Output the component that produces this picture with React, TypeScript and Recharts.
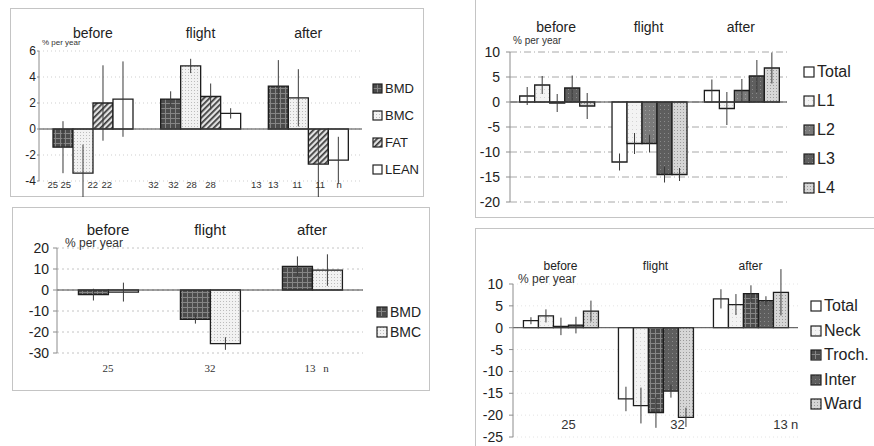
import React from "react"
import { BarChart, Bar, XAxis, YAxis, CartesianGrid, ReferenceLine, ErrorBar } from "recharts"

const groups = ["before", "flight", "after"]

// top left: whole body
const wbBmd = [-1.4, 2.3, 3.3]
const wbBmdErr = [2.0, 0.6, 2.0]
const wbBmc = [-3.4, 4.85, 2.4]
const wbBmcErr = [2.2, 0.55, 2.2]
const wbFat = [2.0, 2.5, -2.7]
const wbFatErr = [2.9, 1.0, 2.6]
const wbLean = [2.3, 1.2, -2.4]
const wbLeanErr = [2.9, 0.4, 1.8]
const wbN = [["25", "25", "22", "22"], ["32", "32", "28", "28"], ["13", "13", "11", "11", "n"]]
const wbTicks = [-4, -2, 0, 2, 4, 6]

// bottom left
const lgBmd = [-2.2, -14, 11.2]
const lgBmdErr = [2.8, 2.0, 4.8]
const lgBmc = [-1.0, -25.5, 9.5]
const lgBmcErr = [4.5, 3.0, 7.5]
const lgN = [["25"], ["32"], ["13", "n"]]
const lgTicks = [-30, -20, -10, 0, 10, 20]

// top right: spine
const spTotal = [1.2, -12, 2.3]
const spTotalErr = [1.8, 1.7, 2.2]
const spL1 = [3.4, -8.3, -1.3]
const spL1Err = [1.8, 2.1, 3.3]
const spL2 = [-0.2, -8.3, 2.3]
const spL2Err = [1.8, 1.8, 2.3]
const spL3 = [2.8, -14.5, 5.2]
const spL3Err = [2.5, 1.6, 3.2]
const spL4 = [-0.8, -14.5, 6.8]
const spL4Err = [2.6, 1.3, 3.1]
const spTicks = [-20, -15, -10, -5, 0, 5, 10]

// bottom right: hip
const hpTotal = [1.6, -16.3, 6.6]
const hpTotalErr = [0.8, 2.8, 2.2]
const hpNeck = [2.7, -17.8, 5.3]
const hpNeckErr = [1.5, 4.1, 2.4]
const hpTroch = [0.3, -19.4, 7.8]
const hpTrochErr = [2.0, 3.5, 1.9]
const hpInter = [0.6, -14.5, 6.2]
const hpInterErr = [1.9, 1.5, 1.0]
const hpWard = [3.8, -20.5, 8.1]
const hpWardErr = [2.4, 2.2, 5.3]
const hpN = [["25"], ["32"], ["13", "n"]]
const hpTicks = [-25, -20, -15, -10, -5, 0, 5, 10]

type Series = { name: string; values: number[]; errors: number[]; fill: string }

type PanelCfg = {
  left: number
  top: number
  width: number
  height: number
  border: { left: number; top: number; width: number; height: number }
  series: Series[]
  domain: [number, number]
  ticks: number[]
  yWidth: number
  yFont: number
  tickSize: number
  tickMargin: number
  topH: number
  bottomH: number
  marginRight: number
  gap: string
  titleY: number
  titleFont: number
  nLabels?: string[][]
  nDx?: number[][]
  nY?: number
  nFont?: number
  nFamily?: string
  grid: { stroke: string; dash: string }
  unit: { left: number; y: number; font: number }
  legend: { left: number; top: number; step: number; font: number; swatch: number }
}

const panels: PanelCfg[] = [
  {
    left: 10, top: 8, width: 414, height: 189,
    border: { left: 10, top: 8, width: 414, height: 189 },
    series: [
      { name: "BMD", values: wbBmd, errors: wbBmdErr, fill: "pDark" },
      { name: "BMC", values: wbBmc, errors: wbBmcErr, fill: "pDots" },
      { name: "FAT", values: wbFat, errors: wbFatErr, fill: "pHatch" },
      { name: "LEAN", values: wbLean, errors: wbLeanErr, fill: "pWhite" },
    ],
    domain: [-4, 6], ticks: wbTicks, yWidth: 29, yFont: 12, tickSize: 2, tickMargin: 1,
    topH: 43, bottomH: 16, marginRight: 62, gap: "13%",
    titleY: 25, titleFont: 14,
    nLabels: wbN,
    nDx: [[-40, -27, 0, 14], [-47, -27, -9, 10], [-52, -35, -11, 12, 31]],
    nY: 176, nFont: 9.5, nFamily: "Liberation Sans, Arial, sans-serif",
    grid: { stroke: "#cfcfcf", dash: "1 3" },
    unit: { left: 42, y: 43, font: 8 },
    legend: { left: 372, top: 74.5, step: 27, font: 13, swatch: 9 },
  },
  {
    left: 12, top: 207, width: 418, height: 184,
    border: { left: 12, top: 207, width: 418, height: 184 },
    series: [
      { name: "BMD", values: lgBmd, errors: lgBmdErr, fill: "pDark" },
      { name: "BMC", values: lgBmc, errors: lgBmcErr, fill: "pDots" },
    ],
    domain: [-30, 20], ticks: lgTicks, yWidth: 45, yFont: 14, tickSize: 4, tickMargin: 4,
    topH: 41, bottomH: 38, marginRight: 67, gap: "21%",
    titleY: 22, titleFont: 15,
    nLabels: lgN,
    nDx: [[0], [0], [-2, 14]],
    nY: 161, nFont: 11, nFamily: "Liberation Serif, Times New Roman, serif",
    grid: { stroke: "#c4c4c4", dash: "2 3" },
    unit: { left: 65, y: 243, font: 12 },
    legend: { left: 376, top: 302, step: 20, font: 14, swatch: 10 },
  },
  {
    left: 475, top: 0, width: 399, height: 218,
    border: { left: 475, top: -2, width: 410, height: 220 },
    series: [
      { name: "Total", values: spTotal, errors: spTotalErr, fill: "pWhite" },
      { name: "L1", values: spL1, errors: spL1Err, fill: "pLight" },
      { name: "L2", values: spL2, errors: spL2Err, fill: "pMid" },
      { name: "L3", values: spL3, errors: spL3Err, fill: "pDark2" },
      { name: "L4", values: spL4, errors: spL4Err, fill: "pSpeck" },
    ],
    domain: [-20, 10], ticks: spTicks, yWidth: 35, yFont: 14, tickSize: 4, tickMargin: 6,
    topH: 52, bottomH: 16, marginRight: 87, gap: "10.5%",
    titleY: 27, titleFont: 14,
    grid: { stroke: "#a8a8a8", dash: "7 3 1 3" },
    unit: { left: 513, y: 41, font: 10 },
    legend: { left: 803, top: 57.5, step: 29, font: 16, swatch: 10 },
  },
  {
    left: 475, top: 228, width: 399, height: 218,
    border: { left: 475, top: 228, width: 410, height: 230 },
    series: [
      { name: "Total", values: hpTotal, errors: hpTotalErr, fill: "pWhite" },
      { name: "Neck", values: hpNeck, errors: hpNeckErr, fill: "pLight" },
      { name: "Troch.", values: hpTroch, errors: hpTrochErr, fill: "pDark" },
      { name: "Inter", values: hpInter, errors: hpInterErr, fill: "pDark2" },
      { name: "Ward", values: hpWard, errors: hpWardErr, fill: "pSpeck" },
    ],
    domain: [-25, 10], ticks: hpTicks, yWidth: 38, yFont: 14, tickSize: 4, tickMargin: 6,
    topH: 56, bottomH: 9, marginRight: 76, gap: "11%",
    titleY: 37.5, titleFont: 12,
    nLabels: hpN,
    nDx: [[8], [22], [30, 44]],
    nY: 196, nFont: 13, nFamily: "Liberation Sans, Arial, sans-serif",
    grid: { stroke: "#e4e4e4", dash: "1 3" },
    unit: { left: 518, y: 279.5, font: 12 },
    legend: { left: 810, top: 293.75, step: 24.5, font: 16, swatch: 10 },
  },
]

function Patterns() {
  return (
    <svg width={0} height={0} style={{ position: "absolute", left: 0, top: 0 }}>
      <defs>
        <pattern id="pWhite" width={4} height={4} patternUnits="userSpaceOnUse">
          <rect width={4} height={4} fill="#ffffff" />
        </pattern>
        <pattern id="pDark" width={5} height={5} patternUnits="userSpaceOnUse">
          <rect width={5} height={5} fill="#4c4c4c" />
          <path d="M0 0.5H5M0.5 0V5" stroke="#858585" strokeWidth={1} />
        </pattern>
        <pattern id="pDark2" width={4} height={4} patternUnits="userSpaceOnUse">
          <rect width={4} height={4} fill="#5e5e5e" />
          <rect x={1} y={1} width={1} height={1} fill="#8a8a8a" />
        </pattern>
        <pattern id="pMid" width={4} height={4} patternUnits="userSpaceOnUse">
          <rect width={4} height={4} fill="#7a7a7a" />
          <rect x={2} y={2} width={1} height={1} fill="#a0a0a0" />
        </pattern>
        <pattern id="pDots" width={3} height={3} patternUnits="userSpaceOnUse">
          <rect width={3} height={3} fill="#f2f2f2" />
          <rect x={1} y={1} width={1} height={1} fill="#bcbcbc" />
        </pattern>
        <pattern id="pLight" width={4} height={4} patternUnits="userSpaceOnUse">
          <rect width={4} height={4} fill="#f3f3f3" />
          <rect x={1} y={1} width={1} height={1} fill="#d4d4d4" />
        </pattern>
        <pattern id="pSpeck" width={3} height={3} patternUnits="userSpaceOnUse">
          <rect width={3} height={3} fill="#d6d6d6" />
          <rect x={1} y={1} width={1} height={1} fill="#9a9a9a" />
        </pattern>
        <pattern id="pHatch" width={4} height={4} patternUnits="userSpaceOnUse" patternTransform="rotate(45)">
          <rect width={4} height={4} fill="#e2e2e2" />
          <rect width={1.7} height={4} fill="#3a3a3a" />
        </pattern>
      </defs>
    </svg>
  )
}

function Panel({ cfg }: { cfg: PanelCfg }) {
  const data = groups.map((g, i) => {
    const row: Record<string, any> = { group: g }
    cfg.series.forEach((s, k) => {
      row["v" + k] = s.values[i]
      row["e" + k] = s.errors[i]
    })
    return row
  })

  const titleTick = (p: any) => (
    <text x={p.x} y={cfg.titleY} textAnchor="middle" dominantBaseline="central" fontSize={cfg.titleFont} fill="#222">
      {p.payload.value}
    </text>
  )

  const nTick = (p: any) => {
    const idx = p.index ?? p.payload.index
    const labels = cfg.nLabels ? cfg.nLabels[idx] || [] : []
    return (
      <g>
        {labels.map((t, j) => (
          <text
            key={j}
            x={p.x + (cfg.nDx ? cfg.nDx[idx][j] : 0)}
            y={cfg.nY}
            textAnchor="middle"
            dominantBaseline="central"
            fontSize={cfg.nFont}
            fontFamily={cfg.nFamily}
            fill="#333"
          >
            {t}
          </text>
        ))}
      </g>
    )
  }

  return (
    <>
      <div
        style={{
          position: "absolute",
          left: cfg.border.left,
          top: cfg.border.top,
          width: cfg.border.width,
          height: cfg.border.height,
          border: "1px solid #c4c4c4",
          boxSizing: "border-box",
        }}
      />
      <div style={{ position: "absolute", left: cfg.left, top: cfg.top }}>
        <BarChart
          width={cfg.width}
          height={cfg.height}
          data={data}
          margin={{ top: 0, right: cfg.marginRight, bottom: 0, left: 0 }}
          barCategoryGap={cfg.gap}
          barGap={0}
        >
          <CartesianGrid vertical={false} stroke={cfg.grid.stroke} strokeDasharray={cfg.grid.dash} />
          <XAxis
            xAxisId="top"
            orientation="top"
            dataKey="group"
            height={cfg.topH}
            axisLine={false}
            tickLine={false}
            interval={0}
            tick={titleTick}
          />
          <XAxis
            dataKey="group"
            height={cfg.bottomH}
            axisLine={false}
            tickLine={false}
            interval={0}
            tick={cfg.nLabels ? nTick : false}
          />
          <YAxis
            width={cfg.yWidth}
            domain={cfg.domain}
            allowDataOverflow
            ticks={cfg.ticks}
            interval={0}
            axisLine={{ stroke: "#8c8c8c" }}
            tickLine={{ stroke: "#8c8c8c" }}
            tickSize={cfg.tickSize}
            tickMargin={cfg.tickMargin}
            tick={{ fontSize: cfg.yFont, fill: "#222" }}
          />
          <ReferenceLine y={0} stroke="#444" strokeWidth={1} />
          {cfg.series.map((s, k) => (
            <Bar
              key={s.name}
              dataKey={"v" + k}
              name={s.name}
              fill={`url(#${s.fill})`}
              stroke="#1e1e1e"
              strokeWidth={1.3}
              isAnimationActive={false}
            >
              <ErrorBar dataKey={"e" + k} width={0} stroke="#3a3a3a" strokeWidth={1} direction="y" />
            </Bar>
          ))}
        </BarChart>
      </div>
      <div
        style={{
          position: "absolute",
          left: cfg.unit.left,
          top: cfg.unit.y - cfg.unit.font * 0.6,
          fontSize: cfg.unit.font,
          lineHeight: `${cfg.unit.font * 1.2}px`,
          color: "#333",
          whiteSpace: "nowrap",
        }}
      >
        % per year
      </div>
      <div style={{ position: "absolute", left: cfg.legend.left, top: cfg.legend.top }}>
        {cfg.series.map((s) => (
          <div
            key={s.name}
            style={{ height: cfg.legend.step, display: "flex", alignItems: "center", fontSize: cfg.legend.font, color: "#222" }}
          >
            <svg width={cfg.legend.swatch + 2} height={cfg.legend.swatch + 2} style={{ marginRight: 2 }}>
              <rect
                x={1}
                y={1}
                width={cfg.legend.swatch}
                height={cfg.legend.swatch}
                fill={`url(#${s.fill})`}
                stroke="#222"
                strokeWidth={1.2}
              />
            </svg>
            <span>{s.name}</span>
          </div>
        ))}
      </div>
    </>
  )
}

export default function App() {
  return (
    <div
      style={{
        position: "absolute",
        left: 0,
        top: 0,
        width: 874,
        height: 446,
        overflow: "hidden",
        background: "#fff",
        fontFamily: "Liberation Sans, Arial, sans-serif",
      }}
    >
      <Patterns />
      {panels.map((p, i) => (
        <Panel key={i} cfg={p} />
      ))}
    </div>
  )
}
